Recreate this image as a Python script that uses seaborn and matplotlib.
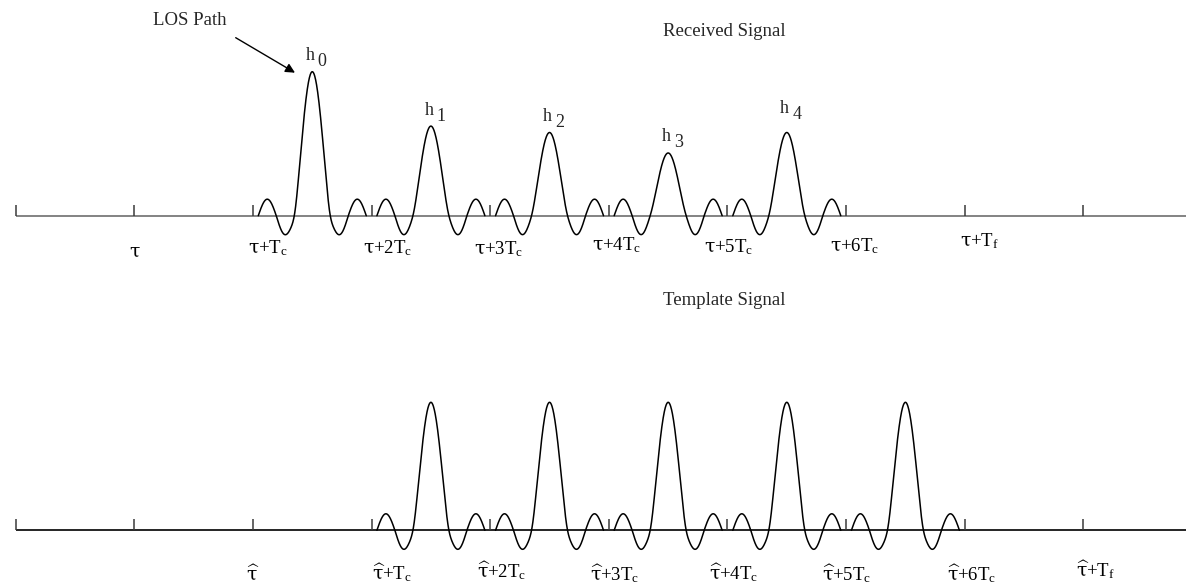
import numpy as np
import pandas as pd
import matplotlib
matplotlib.use("Agg")
import matplotlib.pyplot as plt
import seaborn as sns

# ---- data -------------------------------------------------------------
# path gains of the received multipath components (relative to template pulse)
path_gains = [1.125, 0.70, 0.65, 0.49, 0.65]
path_names = ["0", "1", "2", "3", "4"]
# template pulses all have unit amplitude
template_gains = [1.0, 1.0, 1.0, 1.0, 1.0]
# side-lobe depth / height of every pulse (absolute, same for all)
sidelobe_dip = 0.148
sidelobe_peak = 0.129

# chip slots (tick index where each pulse starts)
received_slots = [2, 3, 4, 5, 6]
template_slots = [3, 4, 5, 6, 7]
n_ticks = 10

T = r"\mathsf{\tau}"
TH = r"\mathsf{\widehat{\tau}}"
received_labels = [f"${T}$", f"${T}\\mathrm{{{{+}}T_c}}$", f"${T}\\mathrm{{{{+}}2T_c}}$",
                   f"${T}\\mathrm{{{{+}}3T_c}}$", f"${T}\\mathrm{{{{+}}4T_c}}$", f"${T}\\mathrm{{{{+}}5T_c}}$",
                   f"${T}\\mathrm{{{{+}}6T_c}}$", f"${T}\\mathrm{{{{+}}T_f}}$"]
received_label_ticks = [1, 2, 3, 4, 5, 6, 7, 8]
template_labels = [f"${TH}$", f"${TH}\\mathrm{{{{+}}T_c}}$", f"${TH}\\mathrm{{{{+}}2T_c}}$",
                   f"${TH}\\mathrm{{{{+}}3T_c}}$", f"${TH}\\mathrm{{{{+}}4T_c}}$", f"${TH}\\mathrm{{{{+}}5T_c}}$",
                   f"${TH}\\mathrm{{{{+}}6T_c}}$", f"${TH}\\mathrm{{{{+}}T_f}}$"]
template_label_ticks = [2, 3, 4, 5, 6, 7, 8, 9]

# ---- layout (pixels) --------------------------------------------------
W, H = 1186, 584
PX_TICK = 118.63        # pixels per chip slot
X0 = 15.7               # first tick
PX_AMP = 128.0          # pixels per unit amplitude
U = 18.0 / PX_TICK      # pulse lobe width in slot units

# label placement tweaks: (dx px from tick, baseline px below axis, ha)
received_label_pos = [(0, 41, "center"), (-5, 38, "left"), (-9, 38, "left"), (-16, 39, "left"),
                      (-17, 35, "left"), (-23, 37, "left"), (-16, 36, "left"), (-5, 31, "left")]
template_label_pos = [(0, 49, "center"), (0, 49, "left"), (-13, 47, "left"), (-19, 50, "left"),
                      (-18, 49, "left"), (-24, 50, "left"), (-18, 50, "left"), (-7, 46, "left")]
# lift of h-labels above peaks (px)
h_lift = [16, 16, 16, 16, 24]


def pulse(u, amp):
    """Sinc-like pulse: main lobe scaled by amp, blended smoothly into fixed side lobes."""
    a = np.abs(u)
    g = 0.5 * (1 - np.tanh((a - 1) / 0.2))
    side_amp = np.where(a < 2, sidelobe_dip, sidelobe_peak)
    side = np.sin(np.pi * a) * side_amp
    return g * amp * np.sinc(u) + (1 - g) * side


def pulse_frame(slots, gains):
    rows = []
    u = np.linspace(-3, 3, 481)
    for k, (s, g) in enumerate(zip(slots, gains)):
        rows.append(pd.DataFrame({"t": s + 0.5 + u * U, "y": pulse(u, g), "pulse": k}))
    return pd.concat(rows, ignore_index=True)


sns.set_theme(style="white")
plt.rcParams["font.family"] = ["Liberation Serif", "DejaVu Serif"]
plt.rcParams["mathtext.fontset"] = "custom"
plt.rcParams["mathtext.rm"] = "Liberation Serif"
plt.rcParams["mathtext.it"] = "Liberation Serif:italic"
plt.rcParams["mathtext.sf"] = "DejaVu Serif"

fig = plt.figure(figsize=(W / 100, H / 100), dpi=100)
fig.patch.set_facecolor("white")

xlim = (-X0 / PX_TICK, (W - X0) / PX_TICK)
top_base, bot_base, split = 215.7, 530.3, 292.0

ax_top = fig.add_axes([0, 1 - split / H, 1, split / H])
ax_bot = fig.add_axes([0, 0, 1, 1 - split / H])
ax_top.set_ylim(-(split - top_base) / PX_AMP, top_base / PX_AMP)
ax_bot.set_ylim(-(H - bot_base) / PX_AMP, (bot_base - split) / PX_AMP)

panels = [
    (ax_top, received_slots, path_gains, received_labels, received_label_ticks, received_label_pos, "#6e6e6e"),
    (ax_bot, template_slots, template_gains, template_labels, template_label_ticks, template_label_pos, "black"),
]

for ax, slots, gains, labels, lticks, lpos, base_col in panels:
    ax.set_xlim(*xlim)
    ax.axis("off")
    ax.plot([0, xlim[1]], [0, 0], color=base_col, lw=1.2, solid_capstyle="butt")
    ax.vlines(np.arange(n_ticks), 0, 11 / PX_AMP, color="#3a3a3a", lw=1.1)
    df = pulse_frame(slots, gains)
    sns.lineplot(data=df, x="t", y="y", units="pulse", estimator=None, sort=False,
                 color="black", lw=1.1, ax=ax, legend=False)
    for lab, tk, (dx, dy, ha) in zip(labels, lticks, lpos):
        ax.annotate(lab, xy=(tk, 0), xytext=(dx, -dy), textcoords="offset pixels",
                    ha=ha, va="baseline", fontsize=13.5, color="black")

# path gain labels above received peaks
for k, (s, g) in enumerate(zip(received_slots, path_gains)):
    ax_top.annotate("h", xy=(s + 0.5, g), xytext=(-2, h_lift[k]), textcoords="offset pixels",
                    ha="center", va="center", fontsize=13)
    ax_top.annotate(path_names[k], xy=(s + 0.5, g), xytext=(10, h_lift[k] - 6),
                    textcoords="offset pixels", ha="center", va="center", fontsize=13)

# titles and the line-of-sight pointer
fig.text(663 / W, 1 - 32 / H, "Received Signal", ha="left", va="center", fontsize=13.5)
fig.text(663 / W, 1 - 300 / H, "Template Signal", ha="left", va="center", fontsize=13.5)
fig.text(152.7 / W, 1 - 20.7 / H, "LOS Path", ha="left", va="center", fontsize=13.5)
fig.add_artist(matplotlib.patches.FancyArrowPatch(
    (235.7, H - 37.7), (295.0, H - 72.7), transform=None,
    arrowstyle="-|>", mutation_scale=14, color="black", lw=1.0, shrinkA=0, shrinkB=0))

fig.savefig("out.png", dpi=100, facecolor="white")
